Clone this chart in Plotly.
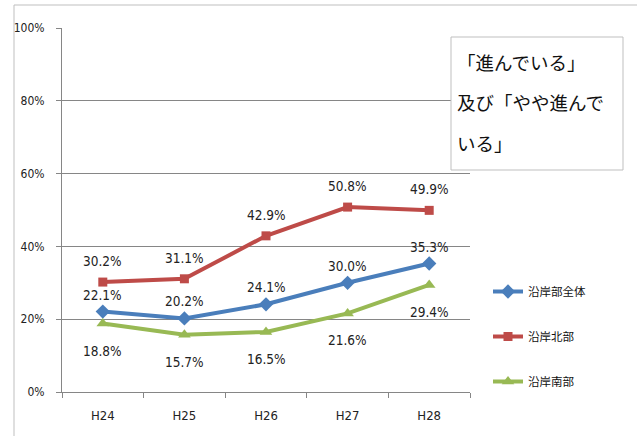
import plotly.graph_objects as go

categories = ["H24", "H25", "H26", "H27", "H28"]
zentai = [22.1, 20.2, 24.1, 30.0, 35.3]
hokubu = [30.2, 31.1, 42.9, 50.8, 49.9]
nanbu = [18.8, 15.7, 16.5, 21.6, 29.4]
series_names = ["沿岸部全体", "沿岸北部", "沿岸南部"]
y_ticks = [0, 20, 40, 60, 80, 100]
box_lines = ["「進んでいる」", "及び「やや進んで", "いる」"]

NUM_FONT = "DejaVu Sans Condensed, Liberation Sans Narrow, sans-serif"
CJK_FONT = "Noto Sans CJK JP, sans-serif"

series = [
    (series_names[0], zentai, "#4A7EBB", "diamond", 11, 17),
    (series_names[1], hokubu, "#BE4B48", "square", 9, 21),
    (series_names[2], nanbu, "#98B954", "triangle-up", 11, -27),
]

fig = go.Figure()
annotations = []
for i, (name, vals, color, sym, msize, shift) in enumerate(series):
    fig.add_trace(go.Scatter(
        x=categories, y=vals, name=name, mode="lines+markers",
        line=dict(color=color, width=4),
        marker=dict(symbol=sym, size=msize, color=color),
        legendgroup=f"g{i}",
        hoverinfo="skip",
    ))
    for c, v in zip(categories, vals):
        annotations.append(dict(
            x=c, y=v, xref="x", yref="y", text=f"{v:.1f}%", showarrow=False,
            yshift=shift, font=dict(family=NUM_FONT, size=13.5, color="#222222"),
        ))

# Box text lines
line_y = [62, 102, 143]
for txt, py in zip(box_lines, line_y):
    annotations.append(dict(
        x=(455 - 62) / 408, y=1 - (py - 28) / 364, xref="paper", yref="paper",
        xanchor="left", yanchor="middle", text=txt, showarrow=False,
        font=dict(family=CJK_FONT, size=18.5, color="#111111"),
    ))

shapes = [
    # outer chart border
    dict(type="rect", xref="paper", yref="paper",
         x0=(14 - 62) / 408, x1=(700 - 62) / 408,
         y0=1 - (480 - 28) / 364, y1=1 + (28 - 5) / 364,
         line=dict(color="#BFBFBF", width=1), fillcolor="rgba(0,0,0,0)", layer="below"),
    # annotation box
    dict(type="rect", xref="paper", yref="paper",
         x0=(451 - 62) / 408, x1=(623 - 62) / 408,
         y0=1 - (170 - 28) / 364, y1=1 - (37 - 28) / 364,
         line=dict(color="#BFBFBF", width=1), fillcolor="white", layer="above"),
]

fig.update_layout(
    width=637, height=436,
    margin=dict(l=62, r=167, t=28, b=44),
    paper_bgcolor="white", plot_bgcolor="white",
    showlegend=True,
    legend=dict(
        x=(488 - 62) / 408, xanchor="left",
        y=1 - (277 - 28) / 364, yanchor="top",
        font=dict(family=CJK_FONT, size=11.5, color="#111111"),
        tracegroupgap=26, itemwidth=30, bgcolor="rgba(0,0,0,0)",
    ),
    xaxis=dict(
        type="category", categoryorder="array", categoryarray=categories,
        showline=True, linecolor="#868686", linewidth=1,
        ticks="outside", ticklen=5, tickcolor="#868686", tickson="boundaries",
        showgrid=False, ticklabelstandoff=11,
        tickfont=dict(family=NUM_FONT, size=13, color="#222222"),
        range=[-0.5, 4.5],
    ),
    yaxis=dict(
        range=[0, 100], tickvals=y_ticks, ticktext=[f"{t}%" for t in y_ticks],
        showline=True, linecolor="#868686", linewidth=1,
        ticks="outside", ticklen=5, tickcolor="#868686",
        showgrid=True, gridcolor="#868686", gridwidth=1,
        zeroline=False, ticklabelstandoff=9,
        tickfont=dict(family=NUM_FONT, size=12, color="#222222"),
    ),
    annotations=annotations,
    shapes=shapes,
)

fig.write_html("out.html", config={"displayModeBar": False},
               post_script="document.body.style.margin='0';")
